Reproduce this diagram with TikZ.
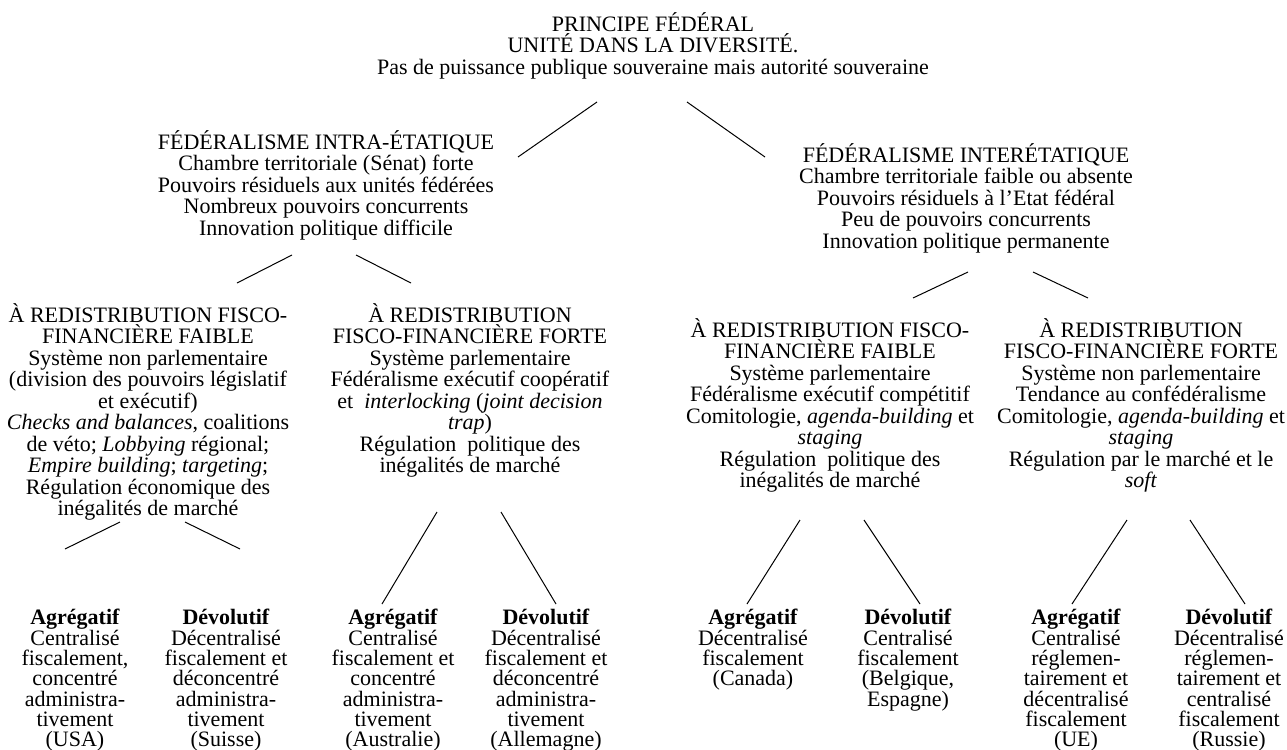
\documentclass[tikz,border=0pt]{standalone}
\usepackage{fontspec}
\setmainfont{Liberation Serif}
\newcommand\tightlines{\lineskiplimit-10pt\relax}

\begin{document}
\begin{tikzpicture}[x=0.5pt,y=-0.5pt,line width=0.5pt,
  txt/.style={align=center,inner sep=0pt,anchor=north,
    font={\fontsize{11}{10.75}\selectfont\tightlines}},
  typ/.style={txt,font={\fontsize{11}{10.15}\selectfont\tightlines}}]
\useasboundingbox (0,0) rectangle (1287,750);
% principe
\node[txt](top)at(653,12){\strut PRINCIPE FÉDÉRAL\\UNITÉ DANS LA DIVERSITÉ.\\
  Pas de puissance publique souveraine mais autorité souveraine};
% deux federalismes
\node[txt](intra)at(326,130){\strut FÉDÉRALISME INTRA-ÉTATIQUE\\Chambre territoriale (Sénat) forte\\
  Pouvoirs résiduels aux unités fédérées\\Nombreux pouvoirs concurrents\\Innovation politique difficile};
\node[txt](inter)at(966,143){\strut FÉDÉRALISME INTERÉTATIQUE\\Chambre territoriale faible ou absente\\
  Pouvoirs résiduels à l’Etat fédéral\\Peu de pouvoirs concurrents\\Innovation politique permanente};
% redistribution
\node[txt](intraA)at(148,303){\strut À REDISTRIBUTION FISCO-\\FINANCIÈRE FAIBLE\\Système non parlementaire\\
  (division des pouvoirs législatif\\et exécutif)\\\textit{Checks and balances}, coalitions\\
  de véto; \textit{Lobbying} régional;\\\textit{Empire building}; \textit{targeting};\\
  Régulation économique des\\inégalités de marché};
\node[txt](intraB)at(470,303){\strut À REDISTRIBUTION\\FISCO-FINANCIÈRE FORTE\\Système parlementaire\\
  Fédéralisme exécutif coopératif\\et \ \textit{interlocking} (\textit{joint decision}\\\textit{trap})\\
  Régulation \ politique des\\inégalités de marché};
\node[txt](interA)at(830,318){\strut À REDISTRIBUTION FISCO-\\FINANCIÈRE FAIBLE\\Système parlementaire\\
  Fédéralisme exécutif compétitif\\Comitologie, \textit{agenda-building} et\\\textit{staging}\\
  Régulation \ politique des\\inégalités de marché};
\node[txt](interB)at(1141,318){\strut À REDISTRIBUTION\\FISCO-FINANCIÈRE FORTE\\Système non parlementaire\\
  Tendance au confédéralisme\\Comitologie, \textit{agenda-building} et\\\textit{staging}\\
  Régulation par le marché et le\\\textit{soft}};
% types
\node[typ](usa)at(75,609){\strut\textbf{Agrégatif}\\Centralisé\\fiscalement,\\concentré\\administra-\\tivement\\(USA)};
\node[typ](suisse)at(226,609){\strut\textbf{Dévolutif}\\Décentralisé\\fiscalement et\\déconcentré\\administra-\\tivement\\(Suisse)};
\node[typ](australie)at(393,609){\strut\textbf{Agrégatif}\\Centralisé\\fiscalement et\\concentré\\administra-\\tivement\\(Australie)};
\node[typ](allemagne)at(546,609){\strut\textbf{Dévolutif}\\Décentralisé\\fiscalement et\\déconcentré\\administra-\\tivement\\(Allemagne)};
\node[typ](canada)at(753,609){\strut\textbf{Agrégatif}\\Décentralisé\\fiscalement\\(Canada)};
\node[typ](belgique)at(908,609){\strut\textbf{Dévolutif}\\Centralisé\\fiscalement\\(Belgique,\\Espagne)};
\node[typ](ue)at(1076,609){\strut\textbf{Agrégatif}\\Centralisé\\réglemen-\\tairement et\\décentralisé\\fiscalement\\(UE)};
\node[typ](russie)at(1229,609){\strut\textbf{Dévolutif}\\Décentralisé\\réglemen-\\tairement et\\centralisé\\fiscalement\\(Russie)};
% branches
\foreach \n/\x/\y in {topl1/597/102,topl2/518/157,topr1/687/102,topr2/765/157,
  intral1/292/255,intral2/237/283,intrar1/356/255,intrar2/411/283,
  interl1/968/272,interl2/913/298,interr1/1033/272,interr2/1088/298,
  Al1/120/522,Al2/65/549,Ar1/185/522,Ar2/240/549,
  Bl1/437/512,Bl2/382/604,Br1/501/512,Br2/556/604,
  Cl1/800/520,Cl2/747/604,Cr1/864/520,Cr2/920/604,
  Dl1/1127/520,Dl2/1072/604,Dr1/1190/520,Dr2/1245/604}
\coordinate(\n)at(\x,\y);
\foreach \b in {topl,topr,intral,intrar,interl,interr,Al,Ar,Bl,Br,Cl,Cr,Dl,Dr}
\draw(\b1)--(\b2);
\end{tikzpicture}
\end{document}
